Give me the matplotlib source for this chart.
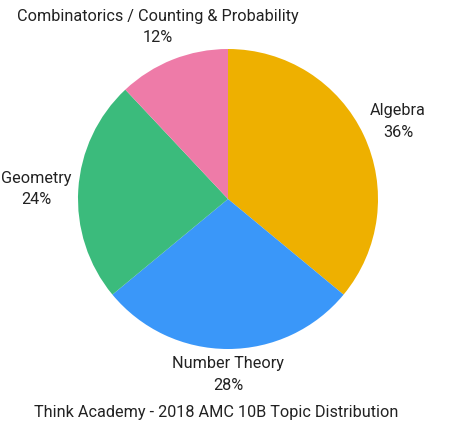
import matplotlib
matplotlib.use("Agg")
import matplotlib.pyplot as plt

categories = ["Algebra", "Number Theory", "Geometry", "Combinatorics / Counting & Probability"]
values = [36, 28, 24, 12]
colors = ["#EEB000", "#3A97F9", "#3BBB7C", "#EE7BA8"]
title = "Think Academy - 2018 AMC 10B Topic Distribution"

plt.rcParams['font.family'] = ['Roboto', 'DejaVu Sans']
W, H = 461, 426
fig = plt.figure(figsize=(W/100, H/100), dpi=100)
cx, cy, r = 228, 199, 150
ax = fig.add_axes([(cx - r)/W, (H - cy - r)/H, 2*r/W, 2*r/H])
ax.pie(values, colors=colors, startangle=90, counterclock=False,
       wedgeprops=dict(linewidth=0))
ax.set_xlim(-1, 1); ax.set_ylim(-1, 1)
ax.set_aspect('equal')
ax.axis('off')

label_pos = [(398, 121.5), (228, 374.5), (36, 189), (158, 27)]
fs = 11.7
tc = "#222222"
for (x, y), cat, v in zip(label_pos, categories, values):
    fig.text(x/W, 1 - y/H, f"{cat}\n{v}%", ha='center', va='center',
             fontsize=fs, color=tc, linespacing=1.55)

fig.text(216/W, 1 - 413/H, title, ha='center', va='center', fontsize=fs, color=tc)
fig.savefig("out.png", dpi=100)
